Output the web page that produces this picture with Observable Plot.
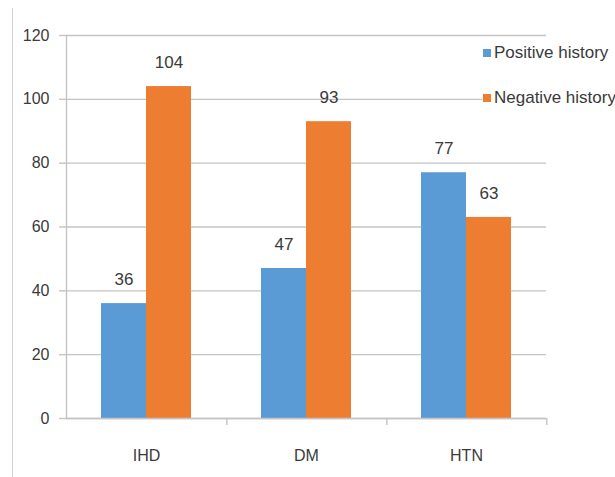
<!DOCTYPE html>
<html>
<head>
<meta charset="utf-8">
<script src="https://cdn.jsdelivr.net/npm/d3@7"></script>
<script src="https://cdn.jsdelivr.net/npm/@observablehq/plot@0.6"></script>
<style>
  body { margin: 0; background: #fff; }
  #wrap { position: relative; width: 615px; height: 477px; overflow: hidden; }
  #frameLine { position: absolute; left: 12px; top: 8px; width: 1px; height: 469px; background: #d3d3d3; }
  #legend { position: absolute; left: 482px; top: 40px; width: 133px; height: 72px; background: #fff;
            font-family: 'Liberation Sans', Arial, sans-serif; font-size: 17px; color: #3a3a3a; }
  .item { position: absolute; left: 1px; height: 20px; display: flex; align-items: center; white-space: nowrap; }
  .sw { width: 8px; height: 8px; margin-right: 3px; }
</style>
</head>
<body>
<div id="wrap"><div id="frameLine"></div></div>
<script>
const categories = ["IHD", "DM", "HTN"];
const seriesNames = ["Positive history", "Negative history"];
const positive = [36, 47, 77];
const negative = [104, 93, 63];
const yTicks = [0, 20, 40, 60, 80, 100, 120];
const colors = ["#5B9BD5", "#ED7D31"];

const rows = categories.flatMap((c, i) => [
  {category: c, series: seriesNames[0], value: positive[i]},
  {category: c, series: seriesNames[1], value: negative[i]}
]);

const W = 615, H = 477, mL = 65, mR = 68, mT = 35, mB = 59;
const halfBand = (W - mL - mR) / categories.length / 2;
const font = "'Liberation Sans', Arial, sans-serif";
const grid = "#c4c4c4";

const chart = Plot.plot({
  width: W, height: H,
  marginLeft: mL, marginRight: mR, marginTop: mT, marginBottom: mB,
  style: {fontFamily: font, fontSize: "16px", color: "#3a3a3a", background: "transparent"},
  fx: {domain: categories, padding: 0, label: null},
  x: {domain: seriesNames, paddingInner: 0, paddingOuter: 0.766, axis: null},
  y: {domain: [0, 120], label: null},
  color: {domain: seriesNames, range: colors},
  marks: [
    Plot.gridY(yTicks, {stroke: grid, strokeOpacity: 1, strokeWidth: 1.4}),
    Plot.axisY(yTicks, {tickSize: 7, tickPadding: 10, stroke: grid, strokeWidth: 1.4, label: null, fill: "#3a3a3a"}),
    Plot.frame({anchor: "left", facet: "super", stroke: grid, strokeWidth: 1.4}),
    Plot.barY(rows, {fx: "category", x: "series", y: "value", fill: "series"}),
    Plot.text(rows, {fx: "category", x: "series", y: "value", text: d => String(d.value), dy: -24, fill: "#3a3a3a", fontSize: 17}),
    Plot.ruleY([0], {stroke: grid, strokeWidth: 1.4}),
    Plot.axisFx({anchor: "bottom", tickSize: 0, tickPadding: 31, label: null, fill: "#3a3a3a"}),
    Plot.axisFx({anchor: "bottom", tickSize: 7, text: null, label: null, dx: halfBand, stroke: grid, strokeWidth: 1.4})
  ]
});

const wrap = document.getElementById("wrap");
wrap.appendChild(chart);
chart.style.position = "absolute";
chart.style.left = "0px";
chart.style.top = "0px";

const legend = document.createElement("div");
legend.id = "legend";
seriesNames.forEach((s, i) => {
  const it = document.createElement("div");
  it.className = "item";
  it.style.top = (i === 0 ? 3 : 48) + "px";
  const sw = document.createElement("span");
  sw.className = "sw";
  sw.style.background = colors[i];
  const tx = document.createElement("span");
  tx.textContent = s;
  it.appendChild(sw);
  it.appendChild(tx);
  legend.appendChild(it);
});
wrap.appendChild(legend);
</script>
</body>
</html>
